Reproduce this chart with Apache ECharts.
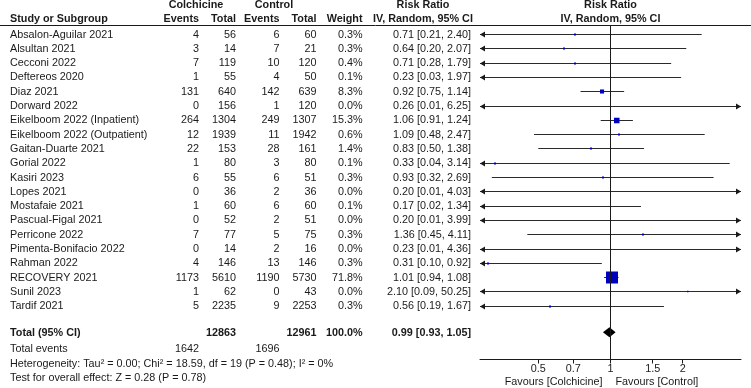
<!DOCTYPE html>
<html>
<head>
<meta charset="utf-8">
<script src="https://cdn.jsdelivr.net/npm/echarts@6/dist/echarts.min.js"></script>
<style>
html, body { margin: 0; padding: 0; background: #fff; }
#forest { width: 751px; height: 388px; }
</style>
</head>
<body>
<div id="forest"></div>
<script>
var studies = ['Absalon-Aguilar 2021', 'Alsultan 2021', 'Cecconi 2022', 'Deftereos 2020', 'Diaz 2021',
    'Dorward 2022', 'Eikelboom 2022 (Inpatient)', 'Eikelboom 2022 (Outpatient)', 'Gaitan-Duarte 2021',
    'Gorial 2022', 'Kasiri 2023', 'Lopes 2021', 'Mostafaie 2021', 'Pascual-Figal 2021', 'Perricone 2022',
    'Pimenta-Bonifacio 2022', 'Rahman 2022', 'RECOVERY 2021', 'Sunil 2023', 'Tardif 2021'];
var colchicineEvents = [4, 3, 7, 1, 131, 0, 264, 12, 22, 1, 6, 0, 1, 0, 7, 0, 4, 1173, 1, 5];
var colchicineTotal = [56, 14, 119, 55, 640, 156, 1304, 1939, 153, 80, 55, 36, 60, 52, 77, 14, 146, 5610, 62, 2235];
var controlEvents = [6, 7, 10, 4, 142, 1, 249, 11, 28, 3, 6, 2, 6, 2, 5, 2, 13, 1190, 0, 9];
var controlTotal = [60, 21, 120, 50, 639, 120, 1307, 1942, 161, 80, 51, 36, 60, 51, 75, 16, 146, 5730, 43, 2253];
var weights = [0.3, 0.3, 0.4, 0.1, 8.3, 0.0, 15.3, 0.6, 1.4, 0.1, 0.3, 0.0, 0.1, 0.0, 0.3, 0.0, 0.3, 71.8, 0.0, 0.3];
var riskRatio = [0.71, 0.64, 0.71, 0.23, 0.92, 0.26, 1.06, 1.09, 0.83, 0.33, 0.93, 0.20, 0.17, 0.20, 1.36, 0.23, 0.31, 1.01, 2.10, 0.56];
var ciLow = [0.21, 0.20, 0.28, 0.03, 0.75, 0.01, 0.91, 0.48, 0.50, 0.04, 0.32, 0.01, 0.02, 0.01, 0.45, 0.01, 0.10, 0.94, 0.09, 0.19];
var ciHigh = [2.40, 2.07, 1.79, 1.97, 1.14, 6.25, 1.24, 2.47, 1.38, 3.14, 2.69, 4.03, 1.34, 3.99, 4.11, 4.36, 0.92, 1.08, 50.25, 1.67];
var overall = { rr: 0.99, low: 0.93, high: 1.05 };
var totals = { colchicine: 12863, control: 12961, weight: '100.0%', eventsColchicine: 1642, eventsControl: 1696 };
var heterogeneityText = 'Heterogeneity: Tau\u00b2 = 0.00; Chi\u00b2 = 18.59, df = 19 (P = 0.48); I\u00b2 = 0%';
var overallTestText = 'Test for overall effect: Z = 0.28 (P = 0.78)';
var tickValues = [0.5, 0.7, 1, 1.5, 2];
var axisLimit = 3.5;

var FONT = '"Liberation Sans", Arial, sans-serif';
var FS = 10.8;
var INK = '#1a1a1a';
var TOTAL_ROW = 20.85;

function lg(v) { return Math.log(v) / Math.LN10; }
function fmt2(v) { return v.toFixed(2); }

var studyData = studies.map(function (s, i) {
    return [lg(ciLow[i]), lg(ciHigh[i]), lg(riskRatio[i]), i, weights[i]];
});

function arrowHead(x, y, dir) {
    return {
        type: 'polygon',
        shape: { points: [[x, y], [x - dir * 5, y - 3], [x - dir * 5, y + 3]] },
        style: { fill: INK }
    };
}

function renderStudy(params, api) {
    var cs = params.coordSys;
    var xMin = cs.x, xMax = cs.x + cs.width;
    var row = api.value(3);
    var pLo = api.coord([api.value(0), row]);
    var pHi = api.coord([api.value(1), row]);
    var pMid = api.coord([api.value(2), row]);
    var y = Math.round(pMid[1]) + 0.5;
    var x1 = Math.max(pLo[0], xMin), x2 = Math.min(pHi[0], xMax);
    var kids = [{
        type: 'line',
        shape: { x1: x1, y1: y, x2: x2, y2: y },
        style: { stroke: '#2a2a2a', lineWidth: 1 }
    }];
    if (pLo[0] < xMin) kids.push(arrowHead(xMin, y, -1));
    if (pHi[0] > xMax) kids.push(arrowHead(xMax, y, 1));
    if (pMid[0] >= xMin && pMid[0] <= xMax) {
        var w = api.value(4);
        var s = w > 0 ? Math.max(2, 12 * Math.sqrt(w / 71.8)) : 1.5;
        kids.push({
            type: 'rect',
            shape: { x: Math.round(pMid[0] - s / 2), y: y - s / 2, width: s, height: s },
            style: { fill: '#0000bf' }
        });
    }
    return { type: 'group', children: kids };
}

function renderDiamond(params, api) {
    var row = api.value(3);
    var pLo = api.coord([api.value(0), row]);
    var pHi = api.coord([api.value(1), row]);
    var pMid = api.coord([api.value(2), row]);
    var h = 5;
    return {
        type: 'polygon',
        shape: { points: [[pLo[0], pMid[1]], [pMid[0], pMid[1] - h], [pHi[0], pMid[1]], [pMid[0], pMid[1] + h]] },
        style: { fill: '#000' }
    };
}

var chart = echarts.init(document.getElementById('forest'));

var option = {
    animation: false,
    grid: { left: 480, right: 10, top: 25.5, bottom: 28.5 },
    xAxis: {
        type: 'value',
        position: 'bottom',
        min: -lg(axisLimit),
        max: lg(axisLimit),
        axisLine: { show: true, onZero: false, lineStyle: { color: INK, width: 1 } },
        axisTick: { show: true, length: 4, lineStyle: { color: INK }, customValues: tickValues.map(lg) },
        axisLabel: {
            customValues: tickValues.map(lg),
            margin: 4,
            color: INK,
            fontSize: FS,
            fontFamily: FONT,
            formatter: function (v) {
                var best = tickValues[0];
                tickValues.forEach(function (t) { if (Math.abs(lg(t) - v) < Math.abs(lg(best) - v)) best = t; });
                return String(best);
            }
        },
        splitLine: { show: false }
    },
    yAxis: {
        type: 'value',
        inverse: true,
        min: -0.6,
        max: 22.76,
        show: false
    },
    series: [
        {
            type: 'custom',
            name: 'studies',
            clip: false,
            renderItem: renderStudy,
            encode: { x: [0, 1, 2], y: 3 },
            data: studyData,
            markLine: {
                silent: true,
                symbol: 'none',
                label: { show: false },
                lineStyle: { color: INK, width: 1, type: 'solid' },
                data: [{ xAxis: 0 }]
            }
        },
        {
            type: 'custom',
            name: 'overall',
            clip: false,
            renderItem: renderDiamond,
            encode: { x: [0, 1, 2], y: 3 },
            data: [[lg(overall.low), lg(overall.high), lg(overall.rr), TOTAL_ROW]]
        }
    ]
};
chart.setOption(option);

// table text, placed on the same row scale as the plot
function rowY(r) { return chart.convertToPixel({ yAxisIndex: 0 }, r); }
function txt(str, x, y, align, bold) {
    return {
        type: 'text',
        silent: true,
        style: {
            text: String(str), x: x, y: y,
            align: align, verticalAlign: 'middle',
            fill: INK,
            font: (bold ? 'bold ' : '') + FS + 'px ' + FONT
        }
    };
}

var col = { name: 10, cEv: 199, cTot: 236, kEv: 279.5, kTot: 316.5, wt: 362.5, ci: 471, ciHead: 423 };
var oneX = chart.convertToPixel({ xAxisIndex: 0 }, 0);
var g = [];

var h1 = rowY(-2.0), h2 = rowY(-1.05);
g.push(txt('Colchicine', 196, h1, 'center', true));
g.push(txt('Control', 274, h1, 'center', true));
g.push(txt('Risk Ratio', col.ciHead, h1, 'center', true));
g.push(txt('Risk Ratio', oneX, h1, 'center', true));
g.push(txt('Study or Subgroup', col.name, h2, 'left', true));
g.push(txt('Events', col.cEv, h2, 'right', true));
g.push(txt('Total', col.cTot, h2, 'right', true));
g.push(txt('Events', col.kEv, h2, 'right', true));
g.push(txt('Total', col.kTot, h2, 'right', true));
g.push(txt('Weight', col.wt, h2, 'right', true));
g.push(txt('IV, Random, 95% CI', col.ciHead, h2, 'center', true));
g.push(txt('IV, Random, 95% CI', oneX, h2, 'center', true));
g.push({
    type: 'line', silent: true,
    shape: { x1: 0, y1: 25.5, x2: 751, y2: 25.5 },
    style: { stroke: INK, lineWidth: 1 }
});

studies.forEach(function (s, i) {
    var y = rowY(i) + 0.5;
    g.push(txt(s, col.name, y, 'left'));
    g.push(txt(colchicineEvents[i], col.cEv, y, 'right'));
    g.push(txt(colchicineTotal[i], col.cTot, y, 'right'));
    g.push(txt(controlEvents[i], col.kEv, y, 'right'));
    g.push(txt(controlTotal[i], col.kTot, y, 'right'));
    g.push(txt(weights[i].toFixed(1) + '%', col.wt, y, 'right'));
    g.push(txt(fmt2(riskRatio[i]) + ' [' + fmt2(ciLow[i]) + ', ' + fmt2(ciHigh[i]) + ']', col.ci, y, 'right'));
});

var yt = rowY(TOTAL_ROW) + 0.5;
g.push(txt('Total (95% CI)', col.name, yt, 'left', true));
g.push(txt(totals.colchicine, col.cTot, yt, 'right', true));
g.push(txt(totals.control, col.kTot, yt, 'right', true));
g.push(txt(totals.weight, col.wt, yt, 'right', true));
g.push(txt(fmt2(overall.rr) + ' [' + fmt2(overall.low) + ', ' + fmt2(overall.high) + ']', col.ci, yt, 'right', true));

var ye = rowY(22.05);
g.push(txt('Total events', col.name, ye, 'left'));
g.push(txt(totals.eventsColchicine, col.cEv, ye, 'right'));
g.push(txt(totals.eventsControl, col.kEv, ye, 'right'));
g.push(txt(heterogeneityText, col.name, rowY(23.05), 'left'));
g.push(txt(overallTestText, col.name, rowY(24.05), 'left'));

g.push(txt('Favours [Colchicine]', oneX - 8, 381.7, 'right'));
g.push(txt('Favours [Control]', oneX + 5, 381.7, 'left'));

chart.setOption({ graphic: g });

window.addEventListener('resize', function () { chart.resize(); });
</script>
</body>
</html>
